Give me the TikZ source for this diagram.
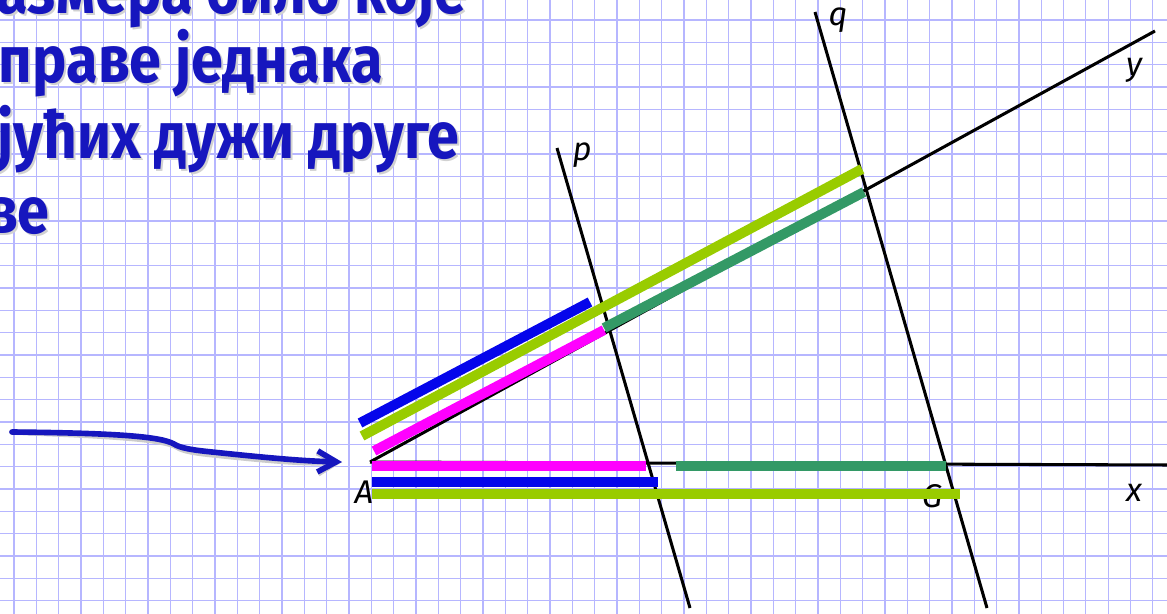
\documentclass[tikz,border=0pt]{standalone}
\usepackage{fontspec}
\setmainfont{Fira Sans}
\newfontfamily\headfont[FakeStretch=0.88]{Fira Sans}
\usetikzlibrary{arrows.meta}

\definecolor{gridblue}{RGB}{182,182,255}
\definecolor{textblue}{RGB}{22,22,190}
\definecolor{barblue}{RGB}{5,5,235}
\definecolor{barlime}{RGB}{153,204,0}
\definecolor{barpink}{RGB}{255,0,255}
\definecolor{barteal}{RGB}{51,153,102}

\begin{document}
\begin{tikzpicture}[x=0.03cm, y=-0.03cm,
    gridline/.style={draw=gridblue, line width=1.1pt},
    ray/.style={draw=black, line width=2.6pt},
    bar/.style={line width=8.5pt},
    letter/.style={font=\itshape\fontsize{28}{28}\selectfont, text=black, inner sep=0pt},
    headline/.style={font=\headfont\bfseries\fontsize{56}{56}\selectfont, text=textblue, anchor=base east, inner sep=0pt},
    headshadow/.style={headline, text=black!18},
    pointer/.style={draw=textblue, line width=4.8pt, line cap=round, -{Straight Barb[length=16pt, width=18pt]}}
]
    \clip (0,0) rectangle (1167,614);
    \fill[white] (0,0) rectangle (1167,614);

    % Grid paper
    \foreach \i in {0,...,52}
        \draw[gridline] ({14+22.33*\i},0) -- ({14+22.33*\i},614);
    \foreach \j in {0,...,26}
        \draw[gridline] (0,{20+22.33*\j}) -- (1167,{20+22.33*\j});

    % Heading text (cut off at the page edge)
    \node[headshadow] at (469,15) {размера било које};
    \node[headline] (line1) at (467,13) {размера било које};
    \node[headshadow] at (385,84) {праве једнака};
    \node[headline] (line2) at (383,82) {праве једнака};
    \node[headshadow] at (462,160) {одговарајућих дужи друге};
    \node[headline] (line3) at (460,158) {одговарајућих дужи друге};
    \node[headshadow] at (52,235) {праве};
    \node[headline] (line4) at (50,233) {праве};

    % Points of the figure
    \coordinate (O) at (370,462);
    \coordinate (xend) at (1170,465);
    \coordinate (yend) at (1155,31);
    \coordinate (ptop) at (557,148);
    \coordinate (pbot) at (690,608);
    \coordinate (qtop) at (815,12);
    \coordinate (qbot) at (987,608);

    % Rays and parallels
    \draw[ray] (O) -- (xend);
    \draw[ray] (O) -- (yend);
    \draw[ray] (ptop) -- (pbot);
    \draw[ray] (qtop) -- (qbot);

    % Letters
    \node[letter] (labA) at (364,492) {A};
    \node[letter] (labx) at (1134,493) {x};
    \node[letter] (laby) at (1134,70) {y};
    \node[letter] (labq) at (838,20) {q};
    \node[letter] (labp) at (582,155) {p};
    \node[letter] (labG) at (932,496) {G};

    % Coloured segments on the y ray
    \draw[bar, barblue] (360,423) -- (590,302);
    \draw[bar, barlime] (362,436) -- (862,169);
    \draw[bar, barpink] (374,451) -- (604,330);
    \draw[bar, barteal] (604,328) -- (864,192);

    % Coloured segments on the x ray
    \draw[bar, barpink] (372,466) -- (646,466);
    \draw[bar, barteal] (676,466) -- (946,466);
    \draw[bar, barblue] (372,482) -- (658,482);
    \draw[bar, barlime] (372,494) -- (960,494);

    % Hand drawn arrow
    \coordinate (tail) at (12,432);
    \coordinate (tip) at (342,462);
    \draw[pointer, draw=black!20, shift={(3,3)}] (tail) .. controls (110,433) and (160,436) .. (174,444)
        .. controls (180,448) and (192,450) .. (212,452) .. controls (260,457) and (300,461) .. (tip);
    \draw[pointer] (tail) .. controls (110,433) and (160,436) .. (174,444)
        .. controls (180,448) and (192,450) .. (212,452) .. controls (260,457) and (300,461) .. (tip);
\end{tikzpicture}
\end{document}
